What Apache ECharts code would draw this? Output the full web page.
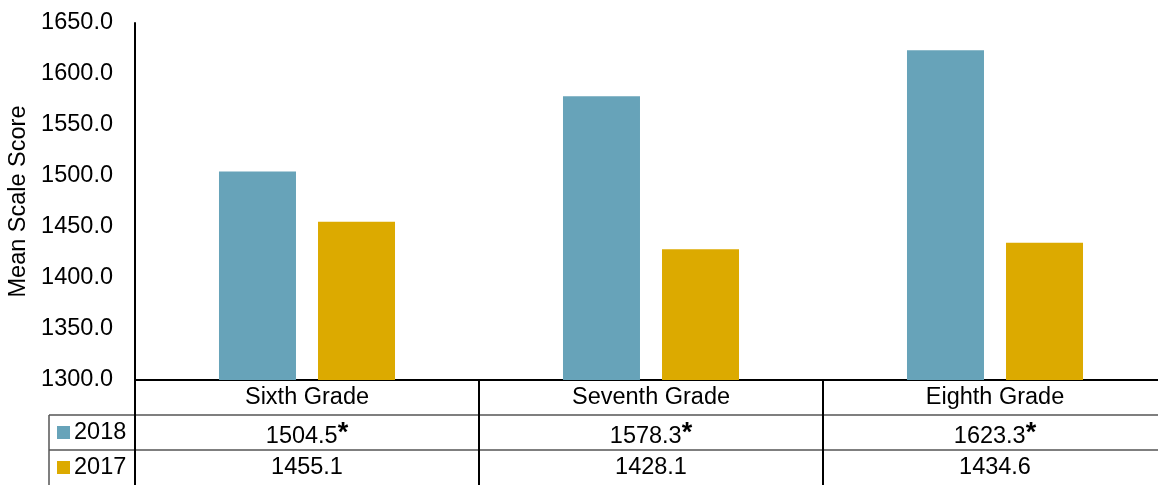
<!DOCTYPE html>
<html>
<head>
<meta charset="utf-8">
<script src="https://cdn.jsdelivr.net/npm/echarts@6/dist/echarts.min.js"></script>
<style>
  html, body { margin: 0; padding: 0; background: #fff; }
  #chart { width: 1158px; height: 485px; }
</style>
</head>
<body>
<div id="chart"></div>
<script>
// Mean scale scores by grade, 2018 vs 2017
const categories = ['Sixth Grade', 'Seventh Grade', 'Eighth Grade'];
const seriesNames = ['2018', '2017'];
const values2018 = [1504.5, 1578.3, 1623.3];
const values2017 = [1455.1, 1428.1, 1434.6];
const significant2018 = [true, true, true];
const yTicks = [1300, 1350, 1400, 1450, 1500, 1550, 1600, 1650];

const COLOR_2018 = '#67a3b9';
const COLOR_2017 = '#dcaa00';
const FONT = 'Liberation Sans, Arial, sans-serif';
const FS = 23.5;
const AXIS_LINE = { color: '#000', width: 2 };
const ROW_LINE = { color: '#555', width: 1.5 };

const chart = echarts.init(document.getElementById('chart'), null, { renderer: 'canvas' });

// table row labels: value with an optional raised asterisk
function cellLabels(values, flags) {
  return values.map((v, i) => v.toFixed(1) + (flags && flags[i] ? '*' : ''));
}
const richCell = {
  formatter: function (s) {
    if (s.endsWith('*')) return '{v|' + s.slice(0, -1) + '}{s|*}';
    return '{v|' + s + '}';
  },
  rich: {
    v: { fontFamily: FONT, fontSize: FS, color: '#000', verticalAlign: 'bottom' },
    s: { fontFamily: FONT, fontSize: 27, fontWeight: 'bold', color: '#000', verticalAlign: 'bottom', padding: [0, 0, 2, 0] }
  }
};

const gridLeft = 135, gridTop = 23, gridBottom = 105, gridWidth = 1032;
const rowH = 35;

chart.setOption({
  animation: false,
  backgroundColor: '#fff',
  grid: {
    left: gridLeft, width: gridWidth, top: gridTop, bottom: gridBottom,
    outerBoundsMode: 'none', containLabel: false
  },
  yAxis: {
    type: 'value',
    min: yTicks[0],
    max: yTicks[yTicks.length - 1],
    interval: 50,
    name: 'Mean Scale Score',
    nameLocation: 'middle',
    nameGap: 104,
    nameTextStyle: { fontFamily: FONT, fontSize: FS, color: '#000' },
    axisLine: { show: true, lineStyle: AXIS_LINE },
    axisTick: { show: false },
    splitLine: { show: false },
    axisLabel: {
      fontFamily: FONT, fontSize: FS, color: '#000', margin: 22,
      formatter: v => v.toFixed(1)
    }
  },
  xAxis: [
    {
      type: 'category',
      data: categories,
      position: 'bottom',
      axisLine: { show: true, lineStyle: AXIS_LINE },
      axisTick: { show: true, interval: 0, length: 110, lineStyle: AXIS_LINE },
      axisLabel: { fontFamily: FONT, fontSize: FS, color: '#000', margin: 6, interval: 0 }
    },
    {
      type: 'category',
      data: cellLabels(values2018, significant2018),
      position: 'bottom',
      offset: rowH,
      axisLine: { show: true, lineStyle: ROW_LINE },
      axisTick: { show: false },
      axisLabel: Object.assign({ margin: 5, interval: 0 }, richCell)
    },
    {
      type: 'category',
      data: cellLabels(values2017, null),
      position: 'bottom',
      offset: rowH * 2,
      axisLine: { show: true, lineStyle: ROW_LINE },
      axisTick: { show: false },
      axisLabel: Object.assign({ margin: 6, interval: 0 }, richCell)
    }
  ],
  series: [
    {
      name: seriesNames[0], type: 'bar', data: values2018,
      barWidth: 77, barGap: '28.6%',
      itemStyle: { color: COLOR_2018 }
    },
    {
      name: seriesNames[1], type: 'bar', data: values2017,
      barWidth: 77, barGap: '28.6%',
      itemStyle: { color: COLOR_2017 }
    }
  ]
});

// legend column on the left of the data table
const axisY = 485 - gridBottom;
const legendLeft = 49;
const rowColors = [COLOR_2018, COLOR_2017];
const rowStroke = { stroke: ROW_LINE.color, lineWidth: ROW_LINE.width };
const graphics = [
  { type: 'line', shape: { x1: legendLeft, y1: axisY + rowH, x2: gridLeft, y2: axisY + rowH }, style: rowStroke },
  { type: 'line', shape: { x1: legendLeft, y1: axisY + rowH * 2, x2: gridLeft, y2: axisY + rowH * 2 }, style: rowStroke },
  { type: 'line', shape: { x1: legendLeft, y1: axisY + rowH, x2: legendLeft, y2: 485 }, style: rowStroke }
];
seriesNames.forEach((name, i) => {
  const cy = axisY + rowH * (i + 1) + rowH / 2;
  graphics.push({ type: 'rect', shape: { x: 57, y: cy - 6.5, width: 13, height: 13 }, style: { fill: rowColors[i] } });
  graphics.push({
    type: 'text', x: 74, y: cy,
    style: { text: name, font: FS + 'px ' + FONT, fill: '#000', verticalAlign: 'middle', align: 'left' }
  });
});
chart.setOption({ graphic: graphics });
</script>
</body>
</html>
